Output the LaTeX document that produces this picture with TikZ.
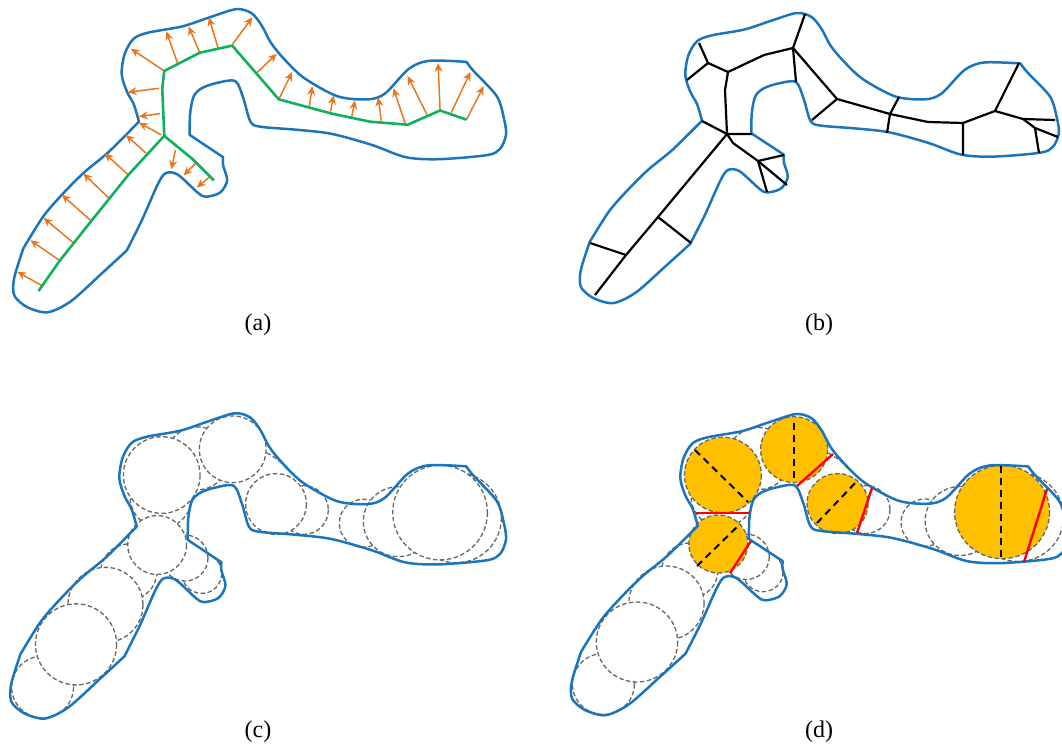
\documentclass[tikz,border=0pt]{standalone}
\usepackage{fontspec}
\setmainfont{Liberation Serif}
\usetikzlibrary{arrows.meta}

\definecolor{wallblue}{HTML}{1B75BC}
\definecolor{axisgreen}{HTML}{12B05A}
\definecolor{normorange}{HTML}{E8761E}
\definecolor{discyellow}{HTML}{FFC000}

%% outline of the region, in the coordinates of panel (a)
\newcommand{\drawwall}{%
  \draw[wall]
    plot[smooth] coordinates {(137,120) (132,103) (125,90) (120,73) (123,53) (132,38) (147,32) (180,26) (207,17) (233,9) (248,13) (258,25) (267,42) (280,58) (300,77) (333,95) (363,98) (380,92) (403,68) (423,60) (460,61)}
    -- plot[smooth] coordinates {(460,61) (467,70) (490,95) (497,117) (499,133) (493,147) (480,153) (433,157) (400,155) (367,143) (327,132) (293,128) (257,125) (247,120) (240,97) (232,80) (213,82) (199,87) (191,95) (187.5,112) (187,133)}
    -- (220,155)
    -- plot[smooth] coordinates {(220,155) (220,163) (224,178) (217,190) (203,194) (195,190) (175,172) (163,171) (155,183) (140,217) (125,247)}
    -- plot[smooth] coordinates {(125,247) (100,270) (70,297) (47,308) (27,303) (15,293) (13,283) (15,270) (23,245)}
    -- plot[smooth] coordinates {(23,245) (43,213) (63,190) (83,170) (107,150) (137,120)}
    -- cycle;
}

%% inscribed circles, back to front, in the coordinates of panel (c)
%% #1 is the fill of the five selected ones
\newcommand{\drawdiscs}[1]{%
  \draw[disc] (263,452) to[bend left=10] (284,469);
  \foreach \cx/\cy/\r in {199/571/19.7, 182.4/555.8/22.7, 127/569.6/27.6, 104/602/37, 42/683/30.5, 75/641/40,
                          158.8/495.7/30.5, 194.5/457.5/31, 299.8/508.5/24,
                          358.3/521.6/23.7, 392.8/520/34.5, 450/516/44.5}{
    \draw[disc, fill=white] (\cx,\cy) circle (\r);
  }
  \foreach \cx/\cy/\r in {155/543/29, 159.5/474/37.8, 229.5/448.6/32.9, 272.2/502.6/30, 434/511/46.7}{
    \draw[disc, fill=#1] (\cx,\cy) circle (\r);
  }
}

\begin{document}
\begin{tikzpicture}[
  x=1pt, y=-1pt,
  every node/.style={font=\fontsize{24}{26}\selectfont},
  wall/.style    ={wallblue, line width=2.5pt, line join=round},
  axisline/.style={axisgreen, line width=2.6pt, line join=round},
  normal/.style  ={normorange, line width=1.5pt, -{Stealth[length=9pt, width=8pt]}},
  branch/.style  ={black, line width=2.2pt, line join=round},
  disc/.style    ={draw=black!60, line width=1.3pt, dash pattern=on 4.5pt off 2.5pt},
  cutline/.style ={red, line width=2.4pt},
  chord/.style   ={black, line width=2pt, dash pattern=on 7pt off 5pt}
]

\useasboundingbox (0,0) rectangle (1062,746);

%% Panel (a): medial axis with normals
\begin{scope}[scale=1.014]
  \drawwall
  \foreach \ax/\ay/\bx/\by in {42/282/17/268, 59/257/30/237, 73/240/43/215, 90/218/61/192, 107/195/82/171,
      126/172/103/151, 144/151/124/133, 159/133/137/121, 158/112/137/115, 157/87/126/91,
      162/70/129/48, 175/62/164/31, 197/52/186/26, 215/47/206/17, 229/44/249/17,
      253/72/273/53, 275/98/288/71, 305/105/308/85, 326/110/329/94, 347/115/350/99,
      376/119/373/96, 400/123/388/87, 421/113/402/75, 434/109/432/62, 445/111/464/71,
      460/118/477/85, 173/148/169/167, 193/161/181/173, 206/175/194/185}{
    \draw[normal] (\ax,\ay) -- (\bx,\by);
  }
  \draw[axisline] (38,287) -- (59,257) -- (90,218) -- (127,172) -- (162,134) -- (160,87) -- (162,70)
    -- (197,52) -- (229,45) -- (275,98) -- (327,112) -- (365,120) -- (402,123) -- (434,109) -- (460,118);
  \draw[axisline] (162,134) -- (190,157) -- (211,178);
\end{scope}
\node (la) at (258,325) {(a)};

%% Panel (b): skeleton
\begin{scope}[shift={(567,4.3)}, xscale=.9856, yscale=.97]
  \drawwall
\end{scope}
\coordinate (hub) at (727,134);
\coordinate (tl) at (725,90);
\coordinate (ul) at (728,72);
\coordinate (uc) at (793,48);
\coordinate (ml) at (837,99);
\coordinate (mc) at (890,114);
\coordinate (mr) at (963,123);
\coordinate (rc) at (995,111);
\coordinate (rn) at (1023,119);
\coordinate (ro) at (1035,128);
\coordinate (lo) at (758,161);
\draw[branch] (595,295) -- (626,255) -- (658,217) -- (hub) -- (tl) -- (ul) -- (708,63) -- (699,43);
\draw[branch] (626,255) -- (590,243);
\draw[branch] (658,217) -- (691,243);
\draw[branch] (702,121) -- (hub) -- (752,134);
\draw[branch] (708,63) -- (687,80);
\draw[branch] (ul) -- (764,55) -- (uc) -- (805,14);
\draw[branch] (uc) -- (796,82);
\draw[branch] (uc) -- (ml) -- (812,120);
\draw[branch] (ml) -- (mc) -- (899,97);
\draw[branch] (mc) -- (887,133);
\draw[branch] (mc) -- (928,122) -- (mr) -- (963,155);
\draw[branch] (mr) -- (rc) -- (1019,63);
\draw[branch] (rc) -- (rn) -- (1055,120);
\draw[branch] (rn) -- (ro) -- (1058,137);
\draw[branch] (ro) -- (1039,153);
\draw[branch] (hub) -- (733,143) -- (lo) -- (784,155);
\draw[branch] (lo) -- (767,192);
\draw[branch] (lo) -- (787,185);
\node (lb) at (819,325) {(b)};

%% Panel (c): inscribed circles
\begin{scope}[shift={(0,-5.6)}, scale=1.014]
  \drawdiscs{white}
  \begin{scope}[shift={(-3,404)}, xscale=1.006, yscale=1.007]
    \drawwall
  \end{scope}
\end{scope}
\node (lc) at (258,732) {(c)};

%% Panel (d): selected circles, diameters and cuts
\begin{scope}[shift={(560.7,1)}, xscale=1.017]
  \drawdiscs{discyellow}
\end{scope}
\begin{scope}[shift={(557.6,405)}, xscale=1.023, yscale=1.007]
  \drawwall
\end{scope}
\foreach \ax/\ay/\bx/\by in {695/450/748/502, 794/423/794/483, 817/523/858/480, 697/566/740/524, 1001/466/1001/561}{
  \draw[chord] (\ax,\ay) -- (\bx,\by);
}
\foreach \ax/\ay/\bx/\by in {696/513/749/513, 797/486/833/454, 857/533/872/488, 730/573/751/541, 1024/562/1047/489}{
  \draw[cutline] (\ax,\ay) -- (\bx,\by);
}
\node (ld) at (819,732) {(d)};

\end{tikzpicture}
\end{document}
